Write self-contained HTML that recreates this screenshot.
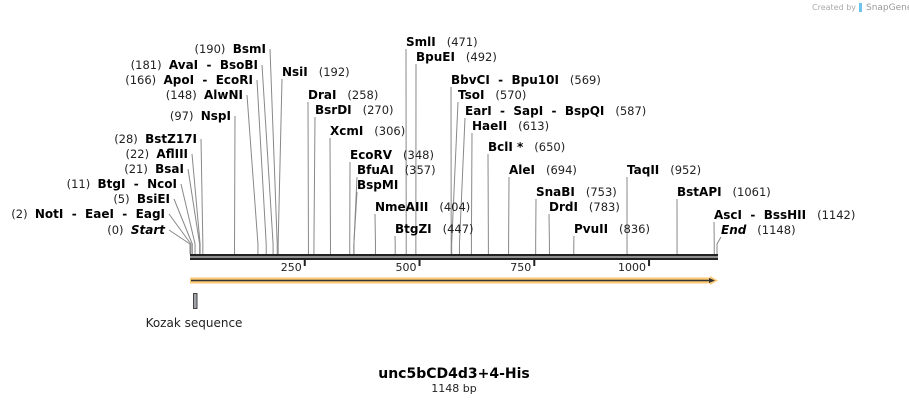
<!DOCTYPE html>
<html><head><meta charset="utf-8"><style>
html,body{margin:0;padding:0;background:#fff;}
svg{display:block;font-family:"DejaVu Sans","Liberation Sans",sans-serif;}
.n{font-weight:bold;font-size:12px;fill:#000;}
.p{font-size:11.5px;fill:#222;}
</style></head><body>
<svg id="map" width="909" height="404" viewBox="0 0 909 404" xmlns="http://www.w3.org/2000/svg">
<text x="812" y="10" font-size="8" fill="#aaa">Created by</text>
<rect x="859" y="3" width="3" height="9" fill="#6cc4ef"/>
<text x="866" y="10" font-size="9" fill="#999">SnapGene</text>
<g id="lines"></g>
<g id="labels"></g>
<rect x="190" y="254" width="528" height="2.5" fill="#222"/>
<rect x="190" y="257.5" width="528" height="2.5" fill="#222"/>
<g id="ticks"></g>
<rect x="190" y="277.5" width="522" height="6" fill="#fbc975"/>
<polygon points="710,276 718,280.5 710,285" fill="#fbc975"/>
<line x1="191" y1="280.5" x2="711" y2="280.5" stroke="#333" stroke-width="1.6"/>
<polygon points="709,278 715,280.5 709,283" fill="#333"/>
<rect x="193.5" y="293.5" width="3.5" height="15" fill="#a0a4aa" stroke="#444" stroke-width="1"/>
<text x="194" y="327" text-anchor="middle" font-size="12" fill="#222">Kozak sequence</text>
<text x="454" y="378" text-anchor="middle" font-size="14" font-weight="bold" fill="#000">unc5bCD4d3+4-His</text>
<text x="454" y="392" text-anchor="middle" font-size="11" fill="#222">1148 bp</text>
</svg>
<script>
const totalLength = 1148;
const tickValues = [250, 500, 750, 1000];
const leftNames = ["Start","NotI  -  EaeI  -  EagI","BsiEI","BtgI  -  NcoI","BsaI","AflIII","BstZ17I","NspI","AlwNI","ApoI  -  EcoRI","AvaI  -  BsoBI","BsmI"];
const leftPos = [0,2,5,11,21,22,28,97,148,166,181,190];
const leftEndX = [165,165,170,177,184,188,197,231,243,253,258,266];
const leftY = [234,218,203,188,173,158,143,120,99,84,69,53];
const rightNames = ["NsiI","DraI","BsrDI","XcmI","EcoRV","BfuAI","BspMI","NmeAIII","BtgZI","SmlI","BpuEI","BbvCI  -  Bpu10I","TsoI","EarI  -  SapI  -  BspQI","HaeII","BclI *","AleI","SnaBI","DrdI","PvuII","TaqII","BstAPI","AscI  -  BssHII","End"];
const rightPos = [192,258,270,306,348,357,357,404,447,471,492,569,570,587,613,650,694,753,783,836,952,1061,1142,1148];
const rightShowPos = [1,1,1,1,1,1,0,1,1,1,1,1,1,1,1,1,1,1,1,1,1,1,1,1];
const rightStartX = [282,308,315,330,350,357,357,375,395,406,416,451,458,465,472,488,509,536,549,574,627,677,714,721];
const rightY = [76,99,114,135,159,174,189,211,233,46,61,84,99,115,130,151,174,196,211,233,174,196,219,234];
const x0 = 190, x1 = 717;
function sx(p){ return x0 + p * (x1 - x0) / totalLength; }
const NS = "http://www.w3.org/2000/svg";
const gL = document.getElementById('lines'), gT = document.getElementById('labels'), gK = document.getElementById('ticks');
function mk(tag, attrs, parent){ const e = document.createElementNS(NS, tag); for (const k in attrs) e.setAttribute(k, attrs[k]); parent.appendChild(e); return e; }
function siteLine(ax, ay, p){
  const s = sx(p);
  const pl = mk('polyline', {points: ax+','+ay+' '+s+','+Math.max(ay,244)+' '+s+',254', fill:'none', stroke:'#888', 'stroke-width':1}, gL);
  
  
}
leftNames.forEach((nm, i) => {
  const t = mk('text', {x: leftEndX[i], y: leftY[i], 'text-anchor':'end'}, gT);
  
  
  t.style.whiteSpace = 'pre';
  const a = document.createElementNS(NS, 'tspan'); a.setAttribute('class','p'); a.textContent = '(' + leftPos[i] + ')  '; t.appendChild(a);
  const b = document.createElementNS(NS, 'tspan'); b.setAttribute('class','n');
  if (nm === 'Start') b.setAttribute('font-style','italic');
  b.textContent = nm; t.appendChild(b);
  siteLine(leftEndX[i] + 4, leftY[i] - 4, leftPos[i]);
});
rightNames.forEach((nm, i) => {
  const t = mk('text', {x: rightStartX[i], y: rightY[i]}, gT);
  
  
  t.style.whiteSpace = 'pre';
  const b = document.createElementNS(NS, 'tspan'); b.setAttribute('class','n');
  if (nm === 'End') b.setAttribute('font-style','italic');
  b.textContent = nm; t.appendChild(b);
  if (rightShowPos[i]) { const a = document.createElementNS(NS, 'tspan'); a.setAttribute('class','p'); a.textContent = '   (' + rightPos[i] + ')'; t.appendChild(a); }
  siteLine(rightStartX[i], rightY[i] + 3, rightPos[i]);
});
tickValues.forEach(v => {
  const x = sx(v);
  const r = mk('rect', {x: x - 1, y: 259, width: 2, height: 7, fill: '#222'}, gK);
  
  
  const t = mk('text', {x: x - 3, y: 271, 'text-anchor':'end', 'font-size':11, fill:'#222'}, gK);
  
  
  t.textContent = v;
});
</script>
</body></html>
